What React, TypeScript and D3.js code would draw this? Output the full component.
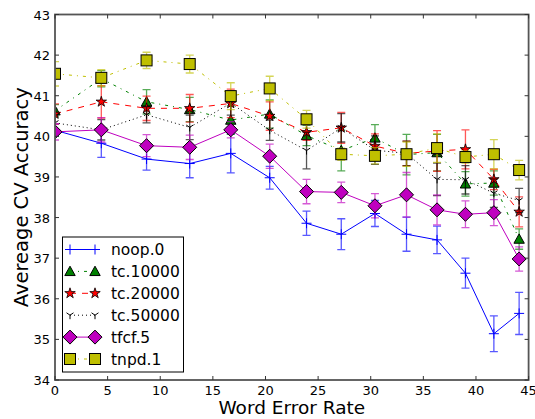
import React from "react";
import * as d3 from "d3";

const xs = [0, 4.4, 8.7, 12.8, 16.7, 20.4, 23.9, 27.2, 30.4, 33.4, 36.3, 39.0, 41.7, 44.1];

const noopY = [40.15, 39.83, 39.44, 39.33, 39.58, 38.98, 37.86, 37.59, 38.1, 37.59, 37.45, 36.63, 35.14, 35.64];
const noopE = [0.15, 0.35, 0.27, 0.35, 0.48, 0.28, 0.3, 0.38, 0.32, 0.42, 0.34, 0.37, 0.44, 0.52];

const tc10Y = [40.63, 41.42, 40.85, 40.66, 40.4, 40.55, 40.02, 39.65, 39.96, 39.55, 39.6, 38.83, 38.85, 37.47];
const tc10E = [0.15, 0.2, 0.3, 0.3, 0.35, 0.35, 0.25, 0.5, 0.33, 0.5, 0.45, 0.3, 0.3, 0.25];

const tc20Y = [40.55, 40.85, 40.69, 40.69, 40.81, 40.5, 40.1, 40.21, 39.76, 39.58, 39.64, 39.68, 38.94, 38.14];
const tc20E = [0.25, 0.4, 0.3, 0.34, 0.35, 0.35, 0.2, 0.38, 0.3, 0.3, 0.5, 0.48, 0.25, 0.37];

const tc50Y = [40.33, 40.16, 40.53, 40.22, 40.82, 40.15, 39.65, 40.21, 39.66, 39.58, 38.94, 38.93, 38.6, 38.42];
const tc50E = [0.2, 0.25, 0.2, 0.3, 0.3, 0.25, 0.45, 0.35, 0.35, 0.3, 0.4, 0.35, 0.35, 0.3];

const tfcfY = [40.11, 40.16, 39.77, 39.73, 40.16, 39.51, 38.64, 38.62, 38.29, 38.56, 38.19, 38.08, 38.12, 36.98];
const tfcfE = [0.2, 0.3, 0.27, 0.3, 0.2, 0.3, 0.3, 0.25, 0.3, 0.55, 0.37, 0.33, 0.32, 0.3];

const tnpdY = [41.54, 41.44, 41.87, 41.78, 40.99, 41.18, 40.42, 39.56, 39.52, 39.56, 39.71, 39.49, 39.56, 39.17];
const tnpdE = [0.3, 0.2, 0.2, 0.22, 0.33, 0.3, 0.22, 0.15, 0.2, 0.3, 0.35, 0.15, 0.36, 0.24];

const seriesNames = ["noop.0", "tc.10000", "tc.20000", "tc.50000", "tfcf.5", "tnpd.1"];
const xTicks = [0, 5, 10, 15, 20, 25, 30, 35, 40, 45];
const yTicks = [34, 35, 36, 37, 38, 39, 40, 41, 42, 43];

type Marker = "plus" | "triangle" | "star" | "tri" | "diamond" | "square";
interface Series { name: string; y: number[]; e: number[]; color: string; dash: string | undefined; marker: Marker; }

const series: Series[] = [
  { name: seriesNames[0], y: noopY, e: noopE, color: "#0000ff", dash: undefined, marker: "plus" },
  { name: seriesNames[1], y: tc10Y, e: tc10E, color: "#008000", dash: "3,5,1,5", marker: "triangle" },
  { name: seriesNames[2], y: tc20Y, e: tc20E, color: "#ff0000", dash: "6,6", marker: "star" },
  { name: seriesNames[3], y: tc50Y, e: tc50E, color: "#000000", dash: "1,3", marker: "tri" },
  { name: seriesNames[4], y: tfcfY, e: tfcfE, color: "#bf00bf", dash: undefined, marker: "diamond" },
  { name: seriesNames[5], y: tnpdY, e: tnpdE, color: "#bfbf00", dash: "3,5,1,5", marker: "square" },
];

const L = 55, R = 528.6, T = 14.5, B = 380;
const FONT = "'DejaVu Sans', sans-serif";

function MarkerGlyph({ m, x, y, color }: { m: Marker; x: number; y: number; color: string }) {
  switch (m) {
    case "plus":
      return <path d={`M${x - 5},${y}H${x + 5}M${x},${y - 5}V${y + 5}`} stroke={color} strokeWidth={1} fill="none" />;
    case "triangle": {
      const s = 5.2;
      return <path d={`M${x},${y - s}L${x + s},${y + s * 0.8}L${x - s},${y + s * 0.8}Z`} fill={color} stroke="#000" strokeWidth={1} />;
    }
    case "star": {
      const p = d3.symbol().type(d3.symbolStar).size(34)();
      return <path d={p || ""} transform={`translate(${x},${y})`} fill={color} stroke="#000" strokeWidth={0.8} />;
    }
    case "tri": {
      const s = 4;
      return <path d={`M${x},${y}V${y + s}M${x},${y}L${x - s * 0.87},${y - s * 0.6}M${x},${y}L${x + s * 0.87},${y - s * 0.6}`} stroke={color} strokeWidth={1} fill="none" />;
    }
    case "diamond": {
      const s = 7;
      return <path d={`M${x},${y - s}L${x + s},${y}L${x},${y + s}L${x - s},${y}Z`} fill={color} stroke="#000" strokeWidth={1} />;
    }
    case "square": {
      const s = 5.5;
      return <rect x={x - s} y={y - s} width={2 * s} height={2 * s} fill={color} stroke="#000" strokeWidth={1} />;
    }
  }
}

export default function App() {
  const x = d3.scaleLinear().domain([0, 45]).range([L, R]);
  const y = d3.scaleLinear().domain([34, 43]).range([B, T]);
  const line = d3.line<number>().x((_, i) => x(xs[i])).y((v) => y(v));

  const legX = 62.5, legY = 237, legW = 121, legH = 135;
  const rowH = 21.9;

  return (
    <svg width={535} height={419} style={{ position: "absolute", left: 0, top: 0 }} fontFamily={FONT}>
      <defs>
        <clipPath id="plotclip">
          <rect x={L} y={T} width={R - L} height={B - T} />
        </clipPath>
      </defs>
      <rect x={0} y={0} width={535} height={419} fill="#fff" />
      <g clipPath="url(#plotclip)">
        {series.map((s) => (
          <g key={s.name}>
            <g opacity={0.65}>
              {s.y.map((v, i) => {
                const cx = x(xs[i]);
                const y1 = y(v + s.e[i]);
                const y2 = y(v - s.e[i]);
                return (
                  <path key={i} d={`M${cx},${y1}V${y2}M${cx - 4},${y1}H${cx + 4}M${cx - 4},${y2}H${cx + 4}`} stroke={s.color} strokeWidth={1.3} fill="none" />
                );
              })}
            </g>
            <path d={line(s.y) || ""} fill="none" stroke={s.color} strokeWidth={1} strokeDasharray={s.dash} />
            {s.y.map((v, i) => (
              <MarkerGlyph key={i} m={s.marker} x={x(xs[i])} y={y(v)} color={s.color} />
            ))}
          </g>
        ))}
      </g>
      <rect x={L} y={T} width={R - L} height={B - T} fill="none" stroke="#555" strokeWidth={1.8} />
      {xTicks.map((t) => (
        <g key={"x" + t}>
          <line x1={x(t)} x2={x(t)} y1={B} y2={B - 4} stroke="#333" />
          <line x1={x(t)} x2={x(t)} y1={T} y2={T + 4} stroke="#333" />
          <text x={x(t)} y={B + 15} textAnchor="middle" fontSize={13} fill="#000">{t}</text>
        </g>
      ))}
      {yTicks.map((t) => (
        <g key={"y" + t}>
          <line x1={L} x2={L + 4} y1={y(t)} y2={y(t)} stroke="#333" />
          <line x1={R} x2={R - 4} y1={y(t)} y2={y(t)} stroke="#333" />
          <text x={L - 5} y={y(t) + 5} textAnchor="end" fontSize={13} fill="#000">{t}</text>
        </g>
      ))}
      <text x={(L + R) / 2} y={414} textAnchor="middle" fontSize={18.5} fill="#000">Word Error Rate</text>
      <text transform={`translate(28,${(T + B) / 2}) rotate(-90)`} textAnchor="middle" fontSize={19.5} fill="#000">Avereage CV Accuracy</text>
      <rect x={legX} y={legY} width={legW} height={legH} fill="#fff" stroke="#000" strokeWidth={1} />
      {series.map((s, i) => {
        const cy = legY + 12.5 + i * rowH;
        return (
          <g key={"leg" + s.name}>
            <line x1={70} x2={95} y1={cy} y2={cy} stroke={s.color} strokeWidth={1} strokeDasharray={s.dash} />
            <MarkerGlyph m={s.marker} x={70} y={cy} color={s.color} />
            <MarkerGlyph m={s.marker} x={95} y={cy} color={s.color} />
            <text x={111} y={cy + 5.5} fontSize={15.5} fill="#000">{s.name}</text>
          </g>
        );
      })}
    </svg>
  );
}
